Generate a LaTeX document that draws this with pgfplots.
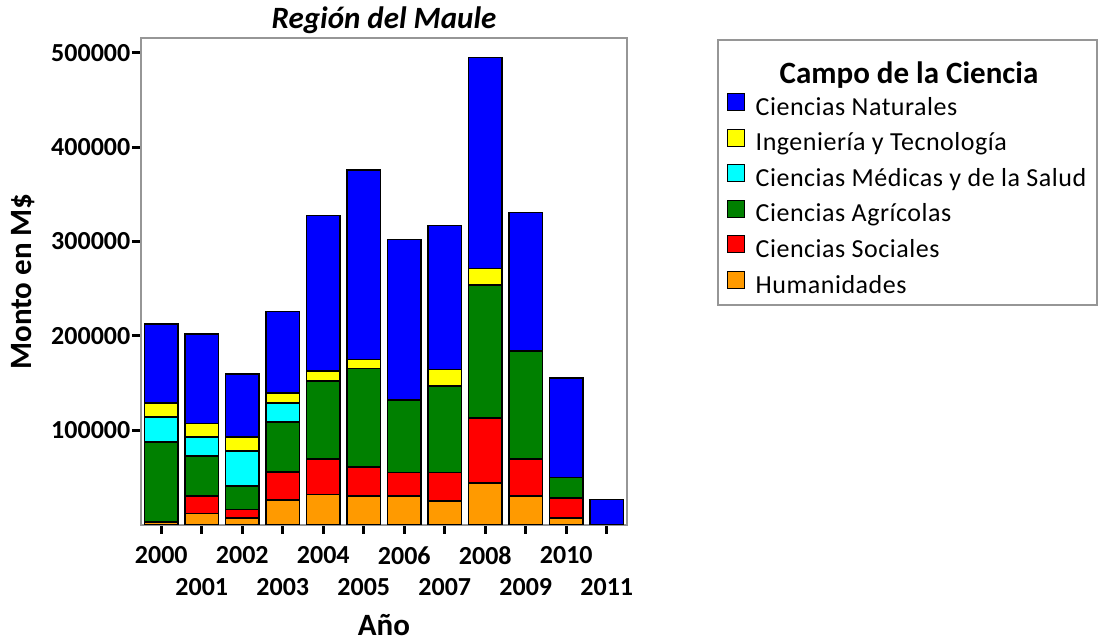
\documentclass[border=0pt]{standalone}
\usepackage{fontspec}
\setmainfont{Carlito}
\usepackage{pgfplots}
\usepackage{pgfplotstable}
\pgfplotsset{compat=1.18}
\definecolor{cNat}{RGB}{0,0,255}
\definecolor{cIng}{RGB}{255,255,0}
\definecolor{cMed}{RGB}{0,255,255}
\definecolor{cAgr}{RGB}{0,128,0}
\definecolor{cSoc}{RGB}{255,0,0}
\definecolor{cHum}{RGB}{255,154,0}
\definecolor{frame}{RGB}{150,150,150}
\pgfplotstableread{
x Hum Soc Agr Med Ing Nat
0 2800 0 84800 26500 14500 84100
1 11700 18300 42400 20200 14500 95000
2 6700 9200 25100 37100 14500 66800
3 26100 29400 53300 19800 10600 86600
4 31800 37800 82300 0 10600 165100
5 30400 30400 104600 0 9200 201000
6 30000 25100 76700 0 0 170300
7 24700 30400 91500 0 17700 152300
8 44200 68900 140600 0 17700 223300
9 30000 39600 114500 0 0 146600
10 7100 21200 21500 0 0 105700
11 0 0 0 0 0 26500
}\datatable
\pgfplotsset{swatch/.style={legend image code/.code={\draw[##1,draw=black,line width=1pt] (0pt,-4pt) rectangle (17pt,13pt);}}}
\newcommand\es{\rule[-6pt]{0pt}{25pt}}
\newcommand\dn[1]{\raisebox{-32pt}[\height][\depth]{#1}}
\begin{document}
\begin{tikzpicture}
\useasboundingbox (0pt,0pt) rectangle (1098pt,641pt);
\begin{axis}[
  scale only axis, width=486pt, height=486pt,
  at={(141pt,116.5pt)}, anchor=south west,
  ybar stacked, bar width=0.815,
  xmin=-0.5, xmax=11.5, ymin=0, ymax=515000,
  xtick={0,...,11},
  xticklabels={2000,\dn{2001},2002,\dn{2003},2004,\dn{2005},2006,\dn{2007},2008,\dn{2009},2010,\dn{2011}},
  ytick={100000,200000,300000,400000,500000},
  scaled y ticks=false,
  /pgf/number format/fixed, /pgf/number format/1000 sep={},
  /pgf/number format/assume math mode=true,
  axis line style={frame, line width=2pt},
  tick pos=left, tick align=outside, major tick length=9pt,
  tick style={black, line width=3pt},
  xticklabel style={font=\fontsize{26}{33}\selectfont\bfseries, yshift=-9.5pt},
  yticklabel style={font=\fontsize{26}{30}\selectfont\bfseries, inner xsep=1.5pt},
  title={\itshape Región del Maule},
  title style={font=\fontsize{31}{36}\selectfont\bfseries, at={(axis description cs:0.5,1.0078)}, anchor=base},
  xlabel={Año},
  xlabel style={font=\fontsize{31}{36}\selectfont\bfseries, inner sep=0pt, at={(axis description cs:0.5,-0.2275)}, anchor=base},
  ylabel={Monto en M\$},
  ylabel style={font=\fontsize{31}{36}\selectfont\bfseries, at={(axis description cs:-0.243,0.5)}, anchor=center},
  reverse legend,
  legend cell align=left,
  legend style={at={(axis description cs:1.1846,0.9986)}, anchor=north west,
    draw=frame, line width=2pt, font=\fontsize{26}{30}\selectfont\addfontfeature{LetterSpace=2},
    row sep=11.8pt, inner xsep=9pt, inner ysep=10pt,
    nodes={inner sep=0pt}, /tikz/every odd column/.append style={column sep=11pt}},
  every axis plot/.append style={draw=black, line width=1.5pt},
]
\addplot[fill=cHum, swatch] table[x=x,y=Hum]{\datatable};
\addlegendentry{\rule[-15pt]{0pt}{34pt}Humanidades}
\addplot[fill=cSoc, swatch] table[x=x,y=Soc]{\datatable};
\addlegendentry{\es Ciencias Sociales}
\addplot[fill=cAgr, swatch] table[x=x,y=Agr]{\datatable};
\addlegendentry{\es Ciencias Agrícolas}
\addplot[fill=cMed, swatch] table[x=x,y=Med]{\datatable};
\addlegendentry{\es Ciencias Médicas y de la Salud}
\addplot[fill=cIng, swatch] table[x=x,y=Ing]{\datatable};
\addlegendentry{\es Ingeniería y Tecnología}
\addplot[fill=cNat, swatch] table[x=x,y=Nat]{\datatable};
\addlegendentry{\rule[-6pt]{0pt}{18pt}Ciencias Naturales}
\addlegendimage{empty legend}
\addlegendentry{\makebox[332pt][l]{\raisebox{-3pt}[30pt][0pt]{\hspace{24pt}\fontsize{31}{36}\selectfont\bfseries\addfontfeature{LetterSpace=0}Campo de la Ciencia}}}
\end{axis}
\end{tikzpicture}
\end{document}
